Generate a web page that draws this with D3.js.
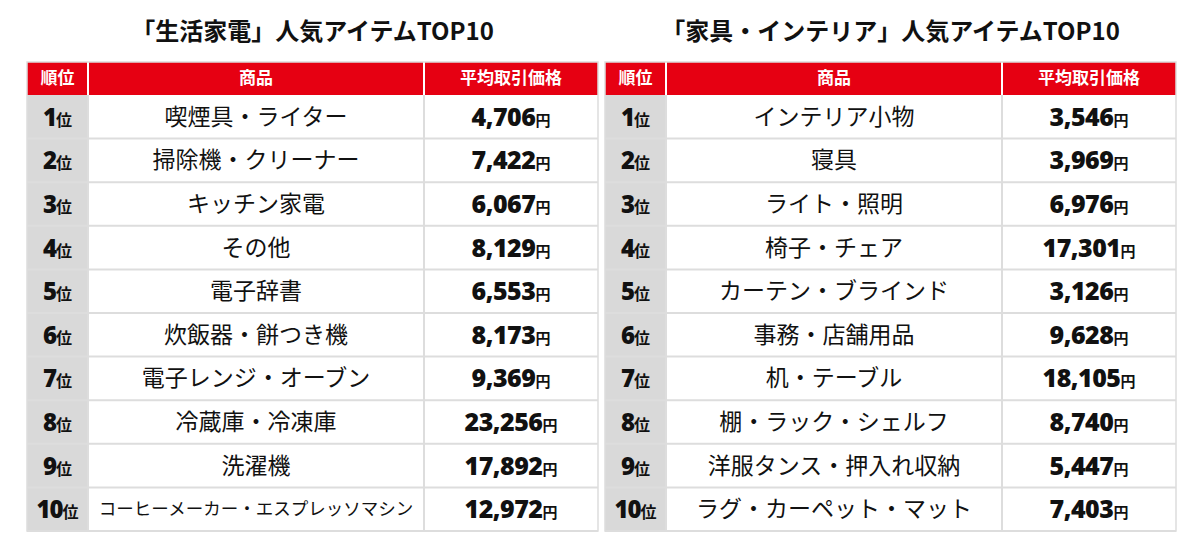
<!DOCTYPE html>
<html><head><meta charset="utf-8">
<script src="https://cdn.jsdelivr.net/npm/d3@7"></script>
<style>body{margin:0;background:#fff}</style>
</head><body>
<div id="chart"></div>
<script>
const ranks = ["1","2","3","4","5","6","7","8","9","10"];
const titles = ["「生活家電」人気アイテムTOP10", "「家具・インテリア」人気アイテムTOP10"];
const headers = ["順位", "商品", "平均取引価格"];
const appliances = ["喫煙具・ライター","掃除機・クリーナー","キッチン家電","その他","電子辞書","炊飯器・餅つき機","電子レンジ・オーブン","冷蔵庫・冷凍庫","洗濯機","コーヒーメーカー・エスプレッソマシン"];
const appliancePrices = [4706,7422,6067,8129,6553,8173,9369,23256,17892,12972];
const furniture = ["インテリア小物","寝具","ライト・照明","椅子・チェア","カーテン・ブラインド","事務・店舗用品","机・テーブル","棚・ラック・シェルフ","洋服タンス・押入れ収納","ラグ・カーペット・マット"];
const furniturePrices = [3546,3969,6976,17301,3126,9628,18105,8740,5447,7403];

const svg = d3.select("#chart").append("svg").attr("width",1200).attr("height",540);
const font = "'Noto Sans CJK JP', sans-serif";
const numFont = "'Open Sans', sans-serif";
const fmt = d3.format(",");
const y = d3.scaleBand().domain(ranks).range([95,531]);

function table(x0, title, items, prices) {
    const cols = [x0, x0+61, x0+397, x0+571];
    const g = svg.append("g");
    g.append("text").attr("x",(cols[0]+cols[3])/2).attr("y",40)
        .attr("text-anchor","middle").attr("font-family",font).attr("font-weight",700)
        .attr("font-size",24).attr("fill","#111").text(title);
    g.append("rect").attr("x",cols[0]).attr("y",62).attr("width",cols[3]-cols[0]).attr("height",33).attr("fill","#e60012");
    headers.forEach((h,j) => {
        g.append("text").attr("x",(cols[j]+cols[j+1])/2).attr("y",84).attr("text-anchor","middle")
            .attr("font-family",font).attr("font-weight",700).attr("font-size",17).attr("fill","#fff").text(h);
        if (j>0) g.append("line").attr("x1",cols[j]).attr("x2",cols[j]).attr("y1",62).attr("y2",95).attr("stroke","#fff").attr("stroke-width",2);
    });
    g.append("rect").attr("x",cols[0]).attr("y",95).attr("width",cols[1]-cols[0]).attr("height",436).attr("fill","#d9d9d9");
    const rows = g.selectAll(".row").data(ranks).enter().append("g").attr("class","row");
    rows.append("line").attr("x1",cols[0]).attr("x2",cols[3])
        .attr("y1",d=>y(d)+y.bandwidth()).attr("y2",d=>y(d)+y.bandwidth()).attr("stroke","#ddd").attr("stroke-width",2);
    const rk = rows.append("text").attr("x",(cols[0]+cols[1])/2).attr("y",d=>y(d)+y.bandwidth()/2+9)
        .attr("text-anchor","middle").attr("font-family",font).attr("font-weight",700).attr("fill","#111");
    rk.append("tspan").attr("font-size",24).attr("font-family",numFont).attr("font-weight",800).attr("letter-spacing",-1).text(d=>d);
    rk.append("tspan").attr("font-size",16).text("位");
    rows.append("text").attr("x",(cols[1]+cols[2])/2).attr("y",(d,k)=>y(d)+y.bandwidth()/2+(items[k].length>15?6:8))
        .attr("text-anchor","middle").attr("font-family",font).attr("font-size",(d,k)=>items[k].length>15?17.5:23)
        .attr("fill","#111").text((d,k)=>items[k]);
    const pr = rows.append("text").attr("x",(cols[2]+cols[3])/2).attr("y",d=>y(d)+y.bandwidth()/2+9)
        .attr("text-anchor","middle").attr("font-family",font).attr("fill","#111");
    pr.append("tspan").attr("font-size",25).attr("font-family",numFont).attr("font-weight",800).attr("letter-spacing",-0.5).text((d,k)=>fmt(prices[k]));
    pr.append("tspan").attr("font-size",15).attr("font-weight",700).text("円");
    [1,2].forEach(j => g.append("line").attr("x1",cols[j]).attr("x2",cols[j]).attr("y1",95).attr("y2",531).attr("stroke","#ddd").attr("stroke-width",2));
    g.append("rect").attr("x",cols[0]).attr("y",62).attr("width",cols[3]-cols[0]).attr("height",469)
        .attr("fill","none").attr("stroke","#ddd").attr("stroke-width",1.5);
}
table(27, titles[0], appliances, appliancePrices);
table(605, titles[1], furniture, furniturePrices);
</script>
</body></html>
